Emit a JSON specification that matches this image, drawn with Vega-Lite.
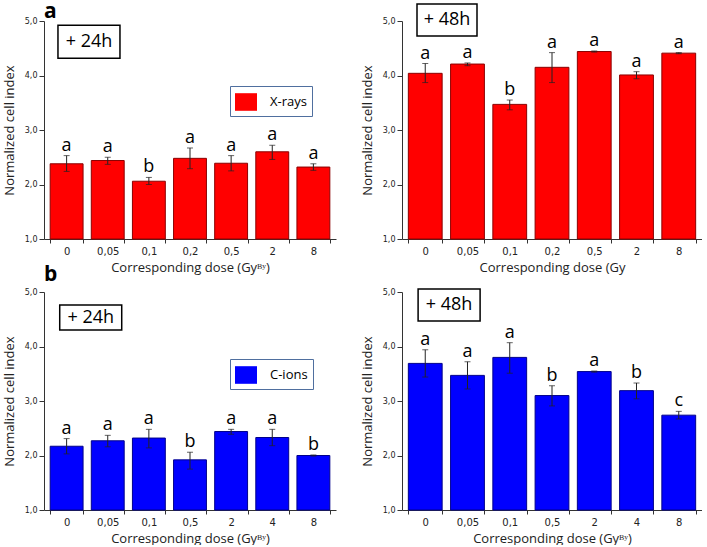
{
  "$schema": "https://vega.github.io/schema/vega-lite/v6.json",
  "padding": {"left": 3, "top": 0, "right": 0, "bottom": 0},
  "background": "white",
  "config": {
    "view": {"stroke": null},
    "font": "Open Sans",
    "axis": {"domainColor": "#333333", "tickColor": "#333333", "labelColor": "#222222", "titleColor": "#222222", "titleFont": "Open Sans", "titleFontWeight": "normal", "titleFontSize": 13, "labelFont": "DejaVu Sans", "grid": false},
    "axisX": {"labelAngle": 0, "tickBand": "extent", "labelFontSize": 10, "tickSize": 4, "labelPadding": 3, "titlePadding": 5},
    "axisY": {"labelFontSize": 8, "labelPadding": 2, "titlePadding": 8, "labelOverlap": false},
    "title": {"fontSize": 21, "fontWeight": "bold", "font": "Open Sans", "anchor": "start", "frame": "group", "color": "black"}
  },
  "datasets": {
    "rows": [
      {"panel": "a24", "beam": "X-rays", "dose": "0", "mean": 2.38, "lo": 2.24, "hi": 2.53, "letter": "a"},
      {"panel": "a24", "beam": "X-rays", "dose": "0,05", "mean": 2.44, "lo": 2.37, "hi": 2.50, "letter": "a"},
      {"panel": "a24", "beam": "X-rays", "dose": "0,1", "mean": 2.06, "lo": 2.00, "hi": 2.13, "letter": "b"},
      {"panel": "a24", "beam": "X-rays", "dose": "0,2", "mean": 2.48, "lo": 2.29, "hi": 2.67, "letter": "a"},
      {"panel": "a24", "beam": "X-rays", "dose": "0,5", "mean": 2.39, "lo": 2.25, "hi": 2.53, "letter": "a"},
      {"panel": "a24", "beam": "X-rays", "dose": "2", "mean": 2.60, "lo": 2.46, "hi": 2.72, "letter": "a"},
      {"panel": "a24", "beam": "X-rays", "dose": "8", "mean": 2.32, "lo": 2.26, "hi": 2.38, "letter": "a"},
      {"panel": "a48", "beam": "X-rays", "dose": "0", "mean": 4.04, "lo": 3.87, "hi": 4.22, "letter": "a"},
      {"panel": "a48", "beam": "X-rays", "dose": "0,05", "mean": 4.21, "lo": 4.18, "hi": 4.23, "letter": "a"},
      {"panel": "a48", "beam": "X-rays", "dose": "0,1", "mean": 3.47, "lo": 3.37, "hi": 3.55, "letter": "b"},
      {"panel": "a48", "beam": "X-rays", "dose": "0,2", "mean": 4.15, "lo": 3.87, "hi": 4.42, "letter": "a"},
      {"panel": "a48", "beam": "X-rays", "dose": "0,5", "mean": 4.44, "lo": 4.43, "hi": 4.45, "letter": "a"},
      {"panel": "a48", "beam": "X-rays", "dose": "2", "mean": 4.01, "lo": 3.94, "hi": 4.07, "letter": "a"},
      {"panel": "a48", "beam": "X-rays", "dose": "8", "mean": 4.41, "lo": 4.40, "hi": 4.42, "letter": "a"},
      {"panel": "b24", "beam": "C-ions", "dose": "0", "mean": 2.17, "lo": 2.03, "hi": 2.31, "letter": "a"},
      {"panel": "b24", "beam": "C-ions", "dose": "0,05", "mean": 2.27, "lo": 2.16, "hi": 2.37, "letter": "a"},
      {"panel": "b24", "beam": "C-ions", "dose": "0,1", "mean": 2.32, "lo": 2.14, "hi": 2.48, "letter": "a"},
      {"panel": "b24", "beam": "C-ions", "dose": "0,5", "mean": 1.92, "lo": 1.75, "hi": 2.06, "letter": "b"},
      {"panel": "b24", "beam": "C-ions", "dose": "2", "mean": 2.44, "lo": 2.39, "hi": 2.48, "letter": "a"},
      {"panel": "b24", "beam": "C-ions", "dose": "4", "mean": 2.33, "lo": 2.18, "hi": 2.48, "letter": "a"},
      {"panel": "b24", "beam": "C-ions", "dose": "8", "mean": 2.00, "lo": 1.99, "hi": 2.01, "letter": "b"},
      {"panel": "b48", "beam": "C-ions", "dose": "0", "mean": 3.69, "lo": 3.44, "hi": 3.94, "letter": "a"},
      {"panel": "b48", "beam": "C-ions", "dose": "0,05", "mean": 3.47, "lo": 3.22, "hi": 3.72, "letter": "a"},
      {"panel": "b48", "beam": "C-ions", "dose": "0,1", "mean": 3.80, "lo": 3.51, "hi": 4.07, "letter": "a"},
      {"panel": "b48", "beam": "C-ions", "dose": "0,5", "mean": 3.10, "lo": 2.91, "hi": 3.28, "letter": "b"},
      {"panel": "b48", "beam": "C-ions", "dose": "2", "mean": 3.54, "lo": 3.53, "hi": 3.55, "letter": "a"},
      {"panel": "b48", "beam": "C-ions", "dose": "4", "mean": 3.19, "lo": 3.04, "hi": 3.33, "letter": "b"},
      {"panel": "b48", "beam": "C-ions", "dose": "8", "mean": 2.74, "lo": 2.67, "hi": 2.81, "letter": "c"}
    ],
    "notes": [
      {"panel": "a24", "label": "+ 24h", "bx": 0.154, "by": 4.62},
      {"panel": "a48", "label": "+ 48h", "bx": 0.15, "by": 5.02},
      {"panel": "b24", "label": "+ 24h", "bx": 0.16, "by": 4.53},
      {"panel": "b48", "label": "+ 48h", "bx": 0.157, "by": 4.76}
    ]
  },
  "vconcat": [
    {
      "title": {"text": "a", "offset": -21},
      "hconcat": [
        {
          "width": 292, "height": 218,
          "layer": [
            {
              "data": {"name": "rows"},
              "transform": [{"filter": "datum.panel === 'a24'"}],
              "layer": [
                {"mark": {"type": "bar", "stroke": "#8b0000", "strokeWidth": 1},
                 "encoding": {
                   "x": {"field": "dose", "type": "nominal", "sort": null, "scale": {"paddingInner": 0.2, "paddingOuter": 0.15}, "axis": {"title": "Corresponding dose (Gyᴮʸ)"}},
                   "y": {"field": "mean", "type": "quantitative", "title": "Normalized cell index", "scale": {"domain": [1, 5], "nice": false, "zero": false}, "axis": {"values": [1, 1.25, 1.5, 1.75, 2, 2.25, 2.5, 2.75, 3, 3.25, 3.5, 3.75, 4, 4.25, 4.5, 4.75, 5], "labelExpr": "datum.value % 0.5 === 0 ? replace(format(datum.value, '.1f'), '.', ',') : ''", "tickSize": {"condition": {"test": "datum.value % 0.5 !== 0", "value": 2.5}, "value": 5}}},
                   "y2": {"datum": 1},
                   "color": {"field": "beam", "type": "nominal", "scale": {"domain": ["X-rays"], "range": ["#ff0000"]}, "legend": {"orient": "none", "legendX": 186, "legendY": 65, "title": null, "strokeColor": "#4f6f9f", "fillColor": "white", "padding": 5, "symbolType": "M-1,-0.8H1V0.8H-1Z", "symbolSize": 484, "symbolStrokeWidth": 0, "labelFontSize": 13, "labelFont": "Open Sans", "labelColor": "black", "labelOffset": 13}}
                 }},
                {"mark": {"type": "errorbar", "ticks": {"size": 6}, "color": "#222222", "thickness": 1},
                 "encoding": {"x": {"field": "dose", "type": "nominal", "sort": null}, "y": {"field": "lo", "type": "quantitative", "title": "Normalized cell index"}, "y2": {"field": "hi"}}},
                {"mark": {"type": "text", "baseline": "bottom", "fontSize": 18, "dy": -1, "color": "black"},
                 "encoding": {"x": {"field": "dose", "type": "nominal", "sort": null}, "y": {"field": "hi", "type": "quantitative", "title": "Normalized cell index"}, "text": {"field": "letter"}}}
              ]
            },
            {
              "data": {"name": "notes"},
              "transform": [{"filter": "datum.panel === 'a24'"}],
              "layer": [
                {"mark": {"type": "point", "shape": "M-1,-0.532H1V0.532H-1Z", "size": 3844, "filled": false, "color": "black", "strokeWidth": 1.5, "opacity": 1},
                 "encoding": {"x": {"field": "bx", "type": "quantitative", "scale": {"domain": [0, 1]}, "axis": null}, "y": {"field": "by", "type": "quantitative", "title": "Normalized cell index"}}},
                {"mark": {"type": "text", "fontSize": 18, "color": "black"},
                 "encoding": {"x": {"field": "bx", "type": "quantitative", "scale": {"domain": [0, 1]}, "axis": null}, "y": {"field": "by", "type": "quantitative", "title": "Normalized cell index"}, "text": {"field": "label"}}}
              ]
            }
          ],
          "resolve": {"scale": {"x": "independent"}}
        },
        {
          "width": 300, "height": 218,
          "layer": [
            {
              "data": {"name": "rows"},
              "transform": [{"filter": "datum.panel === 'a48'"}],
              "layer": [
                {"mark": {"type": "bar", "stroke": "#8b0000", "strokeWidth": 1, "color": "#ff0000"},
                 "encoding": {
                   "x": {"field": "dose", "type": "nominal", "sort": null, "scale": {"paddingInner": 0.2, "paddingOuter": 0.15}, "axis": {"title": "Corresponding dose (Gy"}},
                   "y": {"field": "mean", "type": "quantitative", "title": "Normalized cell index", "scale": {"domain": [1, 5], "nice": false, "zero": false}, "axis": {"values": [1, 1.25, 1.5, 1.75, 2, 2.25, 2.5, 2.75, 3, 3.25, 3.5, 3.75, 4, 4.25, 4.5, 4.75, 5], "labelExpr": "datum.value % 0.5 === 0 ? replace(format(datum.value, '.1f'), '.', ',') : ''", "tickSize": {"condition": {"test": "datum.value % 0.5 !== 0", "value": 2.5}, "value": 5}}},
                   "y2": {"datum": 1}
                 }},
                {"mark": {"type": "errorbar", "ticks": {"size": 6}, "color": "#222222", "thickness": 1},
                 "encoding": {"x": {"field": "dose", "type": "nominal", "sort": null}, "y": {"field": "lo", "type": "quantitative", "title": "Normalized cell index"}, "y2": {"field": "hi"}}},
                {"mark": {"type": "text", "baseline": "bottom", "fontSize": 18, "dy": -1, "color": "black"},
                 "encoding": {"x": {"field": "dose", "type": "nominal", "sort": null}, "y": {"field": "hi", "type": "quantitative", "title": "Normalized cell index"}, "text": {"field": "letter"}}}
              ]
            },
            {
              "data": {"name": "notes"},
              "transform": [{"filter": "datum.panel === 'a48'"}],
              "layer": [
                {"mark": {"type": "point", "shape": "M-1,-0.533H1V0.533H-1Z", "size": 3600, "filled": false, "color": "black", "strokeWidth": 1.5, "opacity": 1},
                 "encoding": {"x": {"field": "bx", "type": "quantitative", "scale": {"domain": [0, 1]}, "axis": null}, "y": {"field": "by", "type": "quantitative", "title": "Normalized cell index"}}},
                {"mark": {"type": "text", "fontSize": 18, "color": "black"},
                 "encoding": {"x": {"field": "bx", "type": "quantitative", "scale": {"domain": [0, 1]}, "axis": null}, "y": {"field": "by", "type": "quantitative", "title": "Normalized cell index"}, "text": {"field": "label"}}}
              ]
            }
          ],
          "resolve": {"scale": {"x": "independent"}}
        }
      ],
      "spacing": 25
    },
    {
      "title": {"text": "b", "offset": 1},
      "hconcat": [
        {
          "width": 292, "height": 218,
          "layer": [
            {
              "data": {"name": "rows"},
              "transform": [{"filter": "datum.panel === 'b24'"}],
              "layer": [
                {"mark": {"type": "bar", "stroke": "#00008b", "strokeWidth": 1},
                 "encoding": {
                   "x": {"field": "dose", "type": "nominal", "sort": null, "scale": {"paddingInner": 0.2, "paddingOuter": 0.15}, "axis": {"title": "Corresponding dose (Gyᴮʸ)"}},
                   "y": {"field": "mean", "type": "quantitative", "title": "Normalized cell index", "scale": {"domain": [1, 5], "nice": false, "zero": false}, "axis": {"values": [1, 1.25, 1.5, 1.75, 2, 2.25, 2.5, 2.75, 3, 3.25, 3.5, 3.75, 4, 4.25, 4.5, 4.75, 5], "labelExpr": "datum.value % 0.5 === 0 ? replace(format(datum.value, '.1f'), '.', ',') : ''", "tickSize": {"condition": {"test": "datum.value % 0.5 !== 0", "value": 2.5}, "value": 5}}},
                   "y2": {"datum": 1},
                   "color": {"field": "beam", "type": "nominal", "scale": {"domain": ["C-ions"], "range": ["#0000ff"]}, "legend": {"orient": "none", "legendX": 186, "legendY": 67, "title": null, "strokeColor": "#4f6f9f", "fillColor": "white", "padding": 5, "symbolType": "M-1,-0.8H1V0.8H-1Z", "symbolSize": 484, "symbolStrokeWidth": 0, "labelFontSize": 13, "labelFont": "Open Sans", "labelColor": "black", "labelOffset": 13}}
                 }},
                {"mark": {"type": "errorbar", "ticks": {"size": 6}, "color": "#222222", "thickness": 1},
                 "encoding": {"x": {"field": "dose", "type": "nominal", "sort": null}, "y": {"field": "lo", "type": "quantitative", "title": "Normalized cell index"}, "y2": {"field": "hi"}}},
                {"mark": {"type": "text", "baseline": "bottom", "fontSize": 18, "dy": -1, "color": "black"},
                 "encoding": {"x": {"field": "dose", "type": "nominal", "sort": null}, "y": {"field": "hi", "type": "quantitative", "title": "Normalized cell index"}, "text": {"field": "letter"}}}
              ]
            },
            {
              "data": {"name": "notes"},
              "transform": [{"filter": "datum.panel === 'b24'"}],
              "layer": [
                {"mark": {"type": "point", "shape": "M-1,-0.403H1V0.403H-1Z", "size": 3844, "filled": false, "color": "black", "strokeWidth": 1.5, "opacity": 1},
                 "encoding": {"x": {"field": "bx", "type": "quantitative", "scale": {"domain": [0, 1]}, "axis": null}, "y": {"field": "by", "type": "quantitative", "title": "Normalized cell index"}}},
                {"mark": {"type": "text", "fontSize": 18, "color": "black"},
                 "encoding": {"x": {"field": "bx", "type": "quantitative", "scale": {"domain": [0, 1]}, "axis": null}, "y": {"field": "by", "type": "quantitative", "title": "Normalized cell index"}, "text": {"field": "label"}}}
              ]
            }
          ],
          "resolve": {"scale": {"x": "independent"}}
        },
        {
          "width": 300, "height": 218,
          "layer": [
            {
              "data": {"name": "rows"},
              "transform": [{"filter": "datum.panel === 'b48'"}],
              "layer": [
                {"mark": {"type": "bar", "stroke": "#00008b", "strokeWidth": 1, "color": "#0000ff"},
                 "encoding": {
                   "x": {"field": "dose", "type": "nominal", "sort": null, "scale": {"paddingInner": 0.2, "paddingOuter": 0.15}, "axis": {"title": "Corresponding dose (Gyᴮʸ)"}},
                   "y": {"field": "mean", "type": "quantitative", "title": "Normalized cell index", "scale": {"domain": [1, 5], "nice": false, "zero": false}, "axis": {"values": [1, 1.25, 1.5, 1.75, 2, 2.25, 2.5, 2.75, 3, 3.25, 3.5, 3.75, 4, 4.25, 4.5, 4.75, 5], "labelExpr": "datum.value % 0.5 === 0 ? replace(format(datum.value, '.1f'), '.', ',') : ''", "tickSize": {"condition": {"test": "datum.value % 0.5 !== 0", "value": 2.5}, "value": 5}}},
                   "y2": {"datum": 1}
                 }},
                {"mark": {"type": "errorbar", "ticks": {"size": 6}, "color": "#222222", "thickness": 1},
                 "encoding": {"x": {"field": "dose", "type": "nominal", "sort": null}, "y": {"field": "lo", "type": "quantitative", "title": "Normalized cell index"}, "y2": {"field": "hi"}}},
                {"mark": {"type": "text", "baseline": "bottom", "fontSize": 18, "dy": -1, "color": "black"},
                 "encoding": {"x": {"field": "dose", "type": "nominal", "sort": null}, "y": {"field": "hi", "type": "quantitative", "title": "Normalized cell index"}, "text": {"field": "letter"}}}
              ]
            },
            {
              "data": {"name": "notes"},
              "transform": [{"filter": "datum.panel === 'b48'"}],
              "layer": [
                {"mark": {"type": "point", "shape": "M-1,-0.516H1V0.516H-1Z", "size": 3844, "filled": false, "color": "black", "strokeWidth": 1.5, "opacity": 1},
                 "encoding": {"x": {"field": "bx", "type": "quantitative", "scale": {"domain": [0, 1]}, "axis": null}, "y": {"field": "by", "type": "quantitative", "title": "Normalized cell index"}}},
                {"mark": {"type": "text", "fontSize": 18, "color": "black"},
                 "encoding": {"x": {"field": "bx", "type": "quantitative", "scale": {"domain": [0, 1]}, "axis": null}, "y": {"field": "by", "type": "quantitative", "title": "Normalized cell index"}, "text": {"field": "label"}}}
              ]
            }
          ],
          "resolve": {"scale": {"x": "independent"}}
        }
      ],
      "spacing": 25
    }
  ],
  "spacing": -10,
  "resolve": {"scale": {"color": "independent"}, "legend": {"color": "independent"}}
}
